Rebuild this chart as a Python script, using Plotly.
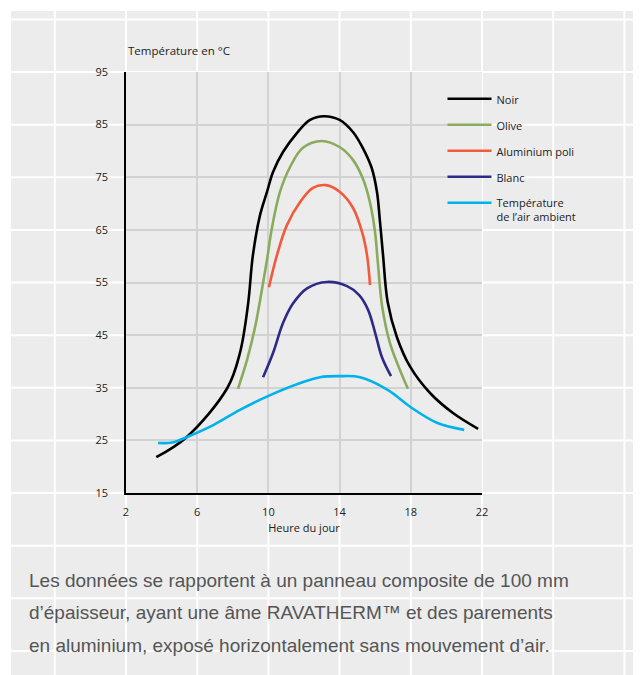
import plotly.graph_objects as go

# heures / températures
noir_h = [3.7, 5.4, 7.7, 8.4, 8.85, 9.13, 9.53, 9.92, 10.26, 10.82, 11.6, 12.34, 13.12, 14.0, 14.75, 15.3, 15.8, 16.1, 16.27, 16.44, 16.7, 17.22, 17.96, 19.08, 20.37, 21.78]
noir_t = [21.8, 25.6, 35.0, 41.6, 50.7, 60.2, 67.8, 72.2, 76.0, 79.8, 83.4, 85.9, 86.6, 85.9, 83.6, 80.6, 76.8, 72.2, 66.5, 60.2, 51.3, 44.6, 39.0, 34.0, 30.2, 27.2]

olive_h = [8.29, 8.8, 9.25, 9.7, 9.92, 10.2, 10.65, 11.21, 11.94, 13.0, 14.02, 14.75, 15.3, 15.7, 15.99, 16.16, 16.38, 16.83, 17.84]
olive_t = [34.8, 40.3, 46.5, 54.9, 59.3, 65.4, 72.2, 76.9, 80.6, 81.9, 80.7, 78.3, 74.8, 70.3, 64.6, 58.3, 50.7, 43.5, 34.8]

alu_h = [10.03, 10.48, 11.04, 11.78, 12.5, 13.24, 14.02, 14.75, 15.26, 15.54, 15.71]
alu_t = [54.1, 60.2, 65.9, 70.3, 73.0, 73.5, 72.2, 69.2, 64.6, 60.2, 54.5]

blanc_h = [9.7, 10.26, 10.82, 11.38, 12.17, 13.29, 14.42, 15.1, 15.6, 16.0, 16.38, 16.89]
blanc_t = [37.0, 41.6, 47.3, 51.0, 53.9, 55.1, 54.3, 52.6, 49.8, 45.4, 40.8, 37.2]

air_h = [3.8, 4.6, 5.4, 6.9, 8.4, 10.1, 11.8, 12.9, 14.0, 15.15, 16.7, 18.0, 19.5, 21.0]
air_t = [24.5, 24.6, 25.6, 27.9, 30.8, 33.6, 35.9, 37.0, 37.2, 37.0, 34.6, 31.3, 28.3, 27.0]

x_ticks = [2, 6, 10, 14, 18, 22]
y_ticks = [15, 25, 35, 45, 55, 65, 75, 85, 95]

series = [
    ("Noir", noir_h, noir_t, "#000000"),
    ("Olive", olive_h, olive_t, "#8bab5c"),
    ("Aluminium poli", alu_h, alu_t, "#f15a3b"),
    ("Blanc", blanc_h, blanc_t, "#2e2b86"),
    ("Température<br>de l’air ambient", air_h, air_t, "#00b2eb"),
]

fig = go.Figure()
for i, (nom, h, t, c) in enumerate(series):
    fig.add_trace(go.Scatter(x=h, y=t, name=nom, mode="lines", legendgroup=str(i),
                             line=dict(color=c, width=2.6, shape="spline", smoothing=1.0)))

# fond gris quadrillé de blanc autour du graphique
shapes = [dict(type="rect", xref="paper", yref="paper", x0=-0.323, x1=1.6, y0=-0.6, y1=1.145,
               fillcolor="#ececec", line_width=0, layer="below")]
for hr in range(-2, 31, 4):
    shapes.append(dict(type="line", xref="paper", yref="paper", x0=(hr - 2) / 20, x1=(hr - 2) / 20,
                       y0=-0.6, y1=1.145, line=dict(color="white", width=2), layer="below"))
for tp in range(-15, 106, 10):
    shapes.append(dict(type="line", xref="paper", yref="paper", x0=-0.323, x1=1.6,
                       y0=(tp - 15) / 80, y1=(tp - 15) / 80, line=dict(color="white", width=2), layer="below"))
shapes.append(dict(type="rect", xref="paper", yref="paper", x0=0, x1=1, y0=0, y1=1,
                   fillcolor="#ececec", line_width=0, layer="below"))

legende = [
    "Les données se rapportent à un panneau composite de 100 mm",
    "d’épaisseur, ayant une âme RAVATHERM™ et des parements",
    "en aluminium, exposé horizontalement sans mouvement d’air.",
]
annotations = [dict(text="Température en °C", xref="paper", yref="paper", x=0, y=1.052,
                    xanchor="left", yanchor="middle", showarrow=False,
                    font=dict(size=11.5, color="#222"))]
for k, ligne in enumerate(legende):
    annotations.append(dict(text=ligne, xref="paper", yref="paper", x=-0.277, y=-0.2067 - k * 0.0772,
                            xanchor="left", yanchor="middle", showarrow=False,
                            font=dict(family="Liberation Sans, Arial", size=19, color="#555555")))

# la page ajoute 8 px de marge : la figure est réduite d'autant
fig.update_layout(
    width=633, height=667,
    margin=dict(l=118, r=159, t=64, b=182),
    paper_bgcolor="white",
    plot_bgcolor="#ececec",
    font=dict(family="Open Sans", size=11, color="#222"),
    shapes=shapes,
    annotations=annotations,
    legend=dict(x=0.889, y=0.969, xanchor="left", yanchor="top", bgcolor="rgba(0,0,0,0)",
                tracegroupgap=7, valign="top", itemwidth=44, font=dict(size=11, color="#222")),
    xaxis=dict(range=[2, 22], tickvals=x_ticks, showgrid=True, gridcolor="#d2d2d2", gridwidth=1.5,
               showline=True, linecolor="black", linewidth=1.5, zeroline=False,
               ticklabelstandoff=8, title=dict(text="Heure du jour", standoff=6, font=dict(size=11))),
    yaxis=dict(range=[15, 95], tickvals=y_ticks, showgrid=True, gridcolor="#d2d2d2", gridwidth=1.5,
               showline=True, linecolor="black", linewidth=1.5, zeroline=False,
               ticklabelstandoff=14),
)

fig.write_html("out.html")
